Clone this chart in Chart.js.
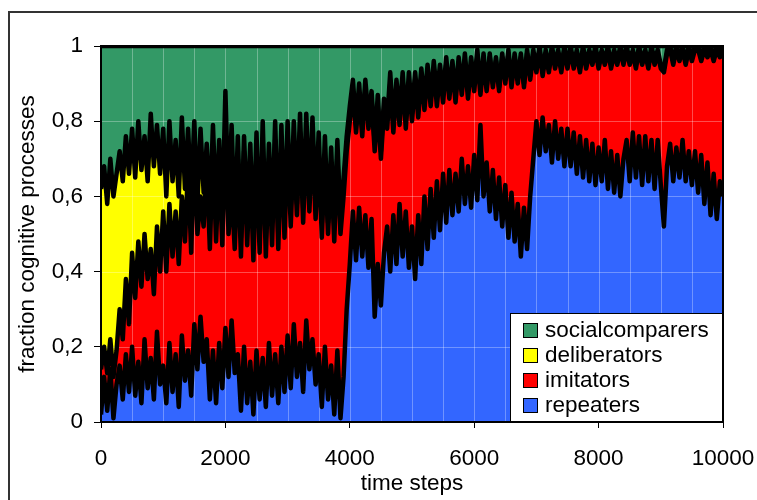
<!DOCTYPE html>
<html>
<head>
<meta charset="utf-8">
<script src="https://cdn.jsdelivr.net/npm/chart.js@4.4.1/dist/chart.umd.min.js"></script>
<style>
  html, body { margin: 0; padding: 0; background: #fff; }
  canvas { display: block; }
</style>
</head>
<body>
<canvas id="chart" width="757" height="500"></canvas>
<script>
// time axis: one sample every 50 steps
const steps = [];
for (let t = 0; t <= 10000; t += 50) steps.push(t);

// fractions (stacked bottom to top)
const repeaters = [
  0.02, 0.12, 0.03, 0.14, 0.01, 0.10, 0.15, 0.06, 0.18, 0.08,
  0.20, 0.07, 0.16, 0.05, 0.22, 0.09, 0.17, 0.06, 0.24, 0.10,
  0.15, 0.05, 0.21, 0.08, 0.18, 0.04, 0.23, 0.11, 0.19, 0.07,
  0.26, 0.14, 0.28, 0.16, 0.22, 0.06, 0.19, 0.05, 0.21, 0.09,
  0.25, 0.12, 0.27, 0.13, 0.18, 0.03, 0.20, 0.05, 0.16, 0.02,
  0.19, 0.06, 0.17, 0.04, 0.21, 0.07, 0.18, 0.05, 0.20, 0.08,
  0.23, 0.09, 0.26, 0.12, 0.21, 0.08, 0.27, 0.14, 0.22, 0.10,
  0.18, 0.04, 0.20, 0.06, 0.15, 0.02, 0.19, 0.01, 0.12, 0.30,
  0.42, 0.56, 0.43, 0.57, 0.44, 0.55, 0.41, 0.54, 0.28, 0.42,
  0.31, 0.45, 0.52, 0.40, 0.55, 0.42, 0.58, 0.44, 0.56, 0.41,
  0.52, 0.38, 0.55, 0.42, 0.60, 0.46, 0.62, 0.49, 0.64, 0.51,
  0.66, 0.53, 0.67, 0.55, 0.66, 0.56, 0.70, 0.58, 0.68, 0.57,
  0.71, 0.59, 0.79, 0.60, 0.69, 0.56, 0.67, 0.54, 0.65, 0.52,
  0.63, 0.49, 0.61, 0.48, 0.58, 0.44, 0.57, 0.46, 0.60, 0.70,
  0.80, 0.71, 0.81, 0.72, 0.79, 0.69, 0.80, 0.70, 0.78, 0.68,
  0.78, 0.68, 0.77, 0.66, 0.76, 0.65, 0.75, 0.64, 0.74, 0.63,
  0.73, 0.64, 0.75, 0.62, 0.72, 0.61, 0.71, 0.60, 0.70, 0.75,
  0.64, 0.77, 0.65, 0.76, 0.63, 0.76, 0.64, 0.75, 0.62, 0.75,
  0.63, 0.52, 0.68, 0.74, 0.64, 0.73, 0.65, 0.75, 0.64, 0.72,
  0.63, 0.72, 0.61, 0.71, 0.58, 0.69, 0.55, 0.66, 0.54, 0.64,
  0.60
];
const imitators = [
  0.12, 0.08, 0.10, 0.08, 0.11, 0.09, 0.15, 0.16, 0.20, 0.18,
  0.25, 0.26, 0.32, 0.31, 0.28, 0.29, 0.29, 0.28, 0.28, 0.30,
  0.41, 0.35, 0.37, 0.36, 0.38, 0.38, 0.37, 0.37, 0.49, 0.38,
  0.48, 0.36, 0.32, 0.36, 0.47, 0.40, 0.54, 0.43, 0.49, 0.38,
  0.53, 0.38, 0.35, 0.33, 0.52, 0.41, 0.52, 0.42, 0.53, 0.41,
  0.53, 0.39, 0.57, 0.40, 0.49, 0.40, 0.57, 0.41, 0.53, 0.41,
  0.53, 0.43, 0.48, 0.43, 0.56, 0.45, 0.48, 0.42, 0.54, 0.44,
  0.54, 0.45, 0.50, 0.44, 0.53, 0.46, 0.52, 0.49, 0.48, 0.42,
  0.38, 0.32, 0.34, 0.30, 0.32, 0.34, 0.37, 0.32, 0.44, 0.42,
  0.39, 0.38, 0.26, 0.50, 0.22, 0.47, 0.21, 0.47, 0.22, 0.49,
  0.28, 0.53, 0.26, 0.50, 0.23, 0.47, 0.22, 0.45, 0.20, 0.42,
  0.19, 0.42, 0.19, 0.39, 0.19, 0.39, 0.17, 0.38, 0.18, 0.38,
  0.17, 0.38, 0.08, 0.36, 0.19, 0.41, 0.22, 0.42, 0.23, 0.45,
  0.27, 0.49, 0.28, 0.49, 0.32, 0.53, 0.32, 0.52, 0.31, 0.28,
  0.13, 0.28, 0.11, 0.26, 0.14, 0.30, 0.14, 0.28, 0.15, 0.31,
  0.16, 0.31, 0.17, 0.32, 0.17, 0.34, 0.19, 0.34, 0.21, 0.36,
  0.21, 0.34, 0.20, 0.37, 0.22, 0.37, 0.24, 0.39, 0.25, 0.24,
  0.31, 0.21, 0.29, 0.23, 0.32, 0.22, 0.30, 0.24, 0.33, 0.23,
  0.31, 0.41, 0.30, 0.25, 0.31, 0.26, 0.31, 0.24, 0.31, 0.27,
  0.33, 0.27, 0.38, 0.25, 0.41, 0.28, 0.44, 0.30, 0.45, 0.33,
  0.39
];
const deliberators = [
  0.48, 0.48, 0.45, 0.48, 0.48, 0.47, 0.42, 0.42, 0.38, 0.40,
  0.33, 0.32, 0.32, 0.31, 0.26, 0.26, 0.36, 0.34, 0.27, 0.26,
  0.22, 0.20, 0.22, 0.20, 0.19, 0.18, 0.21, 0.14, 0.10, 0.15,
  0.06, 0.08, 0.18, 0.09, 0.05, 0.10, 0.06, 0.08, 0.05, 0.07,
  0.10, 0.08, 0.17, 0.06, 0.06, 0.05, 0.04, 0.07, 0.05, 0.06,
  0.05, 0.04, 0.06, 0.05, 0.04, 0.06, 0.05, 0.04, 0.06, 0.04,
  0.04, 0.05, 0.06, 0.03, 0.05, 0.04, 0.07, 0.03, 0.05, 0.04,
  0.05, 0.04, 0.06, 0.03, 0.05, 0.04, 0.04, 0.03, 0.05, 0.04,
  0.04, 0.03, 0.02, 0.03, 0.02, 0.02, 0.03, 0.02, 0.02, 0.03,
  0.02, 0.03, 0.02, 0.03, 0.02, 0.02, 0.03, 0.02, 0.02, 0.03,
  0.02, 0.02, 0.03, 0.02, 0.02, 0.02, 0.02, 0.02, 0.03, 0.02,
  0.02, 0.02, 0.02, 0.02, 0.02, 0.02, 0.02, 0.02, 0.02, 0.02,
  0.02, 0.02, 0.02, 0.02, 0.01, 0.01, 0.01, 0.01, 0.01, 0.01,
  0.01, 0.01, 0.01, 0.01, 0.01, 0.01, 0.01, 0.01, 0.01, 0.01,
  0.01, 0.01, 0.01, 0.01, 0.01, 0.01, 0.01, 0.01, 0.01, 0.01,
  0.01, 0.01, 0.01, 0.01, 0.01, 0.01, 0.01, 0.01, 0.01, 0.01,
  0.01, 0.01, 0.01, 0.01, 0.01, 0.01, 0.01, 0.01, 0.01, 0.01,
  0.01, 0.01, 0.01, 0.01, 0.01, 0.01, 0.01, 0.01, 0.01, 0.01,
  0.01, 0.01, 0.01, 0.01, 0.01, 0.01, 0.01, 0.01, 0.01, 0.01,
  0.01, 0.01, 0.01, 0.01, 0.01, 0.01, 0.01, 0.01, 0.01, 0.01,
  0.01
];
const socialcomparers = [
  0.38, 0.32, 0.42, 0.30, 0.40, 0.34, 0.28, 0.36, 0.24, 0.34,
  0.22, 0.35, 0.20, 0.33, 0.24, 0.36, 0.18, 0.32, 0.21, 0.34,
  0.22, 0.40, 0.20, 0.36, 0.25, 0.40, 0.19, 0.38, 0.22, 0.40,
  0.20, 0.42, 0.22, 0.39, 0.26, 0.44, 0.21, 0.44, 0.25, 0.46,
  0.12, 0.42, 0.21, 0.48, 0.24, 0.51, 0.24, 0.46, 0.26, 0.51,
  0.23, 0.51, 0.20, 0.51, 0.26, 0.47, 0.20, 0.50, 0.21, 0.47,
  0.20, 0.43, 0.20, 0.42, 0.18, 0.43, 0.18, 0.41, 0.19, 0.42,
  0.23, 0.47, 0.24, 0.47, 0.27, 0.48, 0.25, 0.47, 0.35, 0.24,
  0.16, 0.09, 0.21, 0.10, 0.22, 0.09, 0.19, 0.12, 0.26, 0.13,
  0.28, 0.14, 0.20, 0.07, 0.21, 0.09, 0.18, 0.07, 0.20, 0.07,
  0.18, 0.07, 0.16, 0.06, 0.15, 0.05, 0.14, 0.04, 0.13, 0.05,
  0.13, 0.03, 0.12, 0.04, 0.13, 0.03, 0.11, 0.02, 0.12, 0.03,
  0.10, 0.01, 0.11, 0.02, 0.11, 0.02, 0.10, 0.03, 0.11, 0.02,
  0.09, 0.01, 0.10, 0.02, 0.09, 0.02, 0.10, 0.01, 0.08, 0.01,
  0.06, 0.00, 0.07, 0.01, 0.06, 0.00, 0.05, 0.01, 0.06, 0.00,
  0.05, 0.00, 0.05, 0.01, 0.06, 0.00, 0.05, 0.01, 0.04, 0.00,
  0.05, 0.01, 0.04, 0.00, 0.05, 0.01, 0.04, 0.00, 0.04, 0.00,
  0.04, 0.01, 0.05, 0.00, 0.04, 0.01, 0.05, 0.00, 0.04, 0.01,
  0.05, 0.06, 0.01, 0.00, 0.04, 0.00, 0.03, 0.00, 0.04, 0.00,
  0.03, 0.00, 0.00, 0.03, 0.00, 0.02, 0.00, 0.03, 0.00, 0.02,
  0.00
];

const seriesNames = ['repeaters', 'imitators', 'deliberators', 'socialcomparers'];
const seriesData = [repeaters, imitators, deliberators, socialcomparers];
const seriesColors = ['#3366FF', '#FF0000', '#FFFF00', '#339966'];
const xTicks = [0, 2000, 4000, 6000, 8000, 10000];
const yTicks = [0, 0.2, 0.4, 0.6, 0.8, 1];

const FONT = "'Liberation Sans', Arial, sans-serif";
const FS = 22.5;

// faint light lines over the filled areas, like the original export
const faintGrid = {
    id: 'faintGrid',
    beforeDatasetsDraw(chart) {
        const { ctx, chartArea: a, scales } = chart;
        ctx.save();
        ctx.strokeStyle = 'rgba(255,255,255,0.3)';
        ctx.lineWidth = 1;
        ctx.beginPath();
        for (let t = 500; t < 10000; t += 500) {
            const x = Math.round(scales.x.getPixelForValue(t)) + 0.5;
            ctx.moveTo(x, a.top);
            ctx.lineTo(x, a.bottom);
        }
        for (const v of [0.2, 0.4, 0.6, 0.8]) {
            const y = Math.round(scales.y.getPixelForValue(v)) + 0.5;
            ctx.moveTo(a.left, y);
            ctx.lineTo(a.right, y);
        }
        ctx.stroke();
        ctx.restore();
    }
};

// frame, plot border, axis titles and the boxed legend
const decorations = {
    id: 'decorations',
    afterDraw(chart) {
        const { ctx, chartArea: a } = chart;
        ctx.save();

        // legend box (bottom-right of plot)
        const lx = 510, ly = 313, lw = a.right - 510, lh = a.bottom - 313;
        ctx.fillStyle = '#fff';
        ctx.fillRect(lx, ly, lw, lh);
        ctx.strokeStyle = '#000';
        ctx.lineWidth = 1;
        ctx.strokeRect(lx + 0.5, ly + 0.5, lw, lh);
        ctx.font = FS + 'px ' + FONT;
        ctx.textAlign = 'left';
        ctx.textBaseline = 'middle';
        [3, 2, 1, 0].forEach((k, r) => {
            const cy = 330 + r * 25;
            ctx.fillStyle = seriesColors[k];
            ctx.fillRect(523, cy - 7, 14, 14);
            ctx.strokeStyle = '#000';
            ctx.strokeRect(523.5, cy - 6.5, 14, 14);
            ctx.fillStyle = '#000';
            ctx.fillText(seriesNames[k], 545, cy + 1);
        });

        // plot border
        ctx.strokeStyle = '#000';
        ctx.lineWidth = 2;
        ctx.strokeRect(a.left, a.top, a.right - a.left, a.bottom - a.top);

        // outer chart frame
        ctx.strokeStyle = '#333';
        ctx.lineWidth = 2;
        ctx.strokeRect(9, 12, 800, 600);

        // axis titles
        ctx.fillStyle = '#000';
        ctx.textAlign = 'center';
        ctx.textBaseline = 'alphabetic';
        ctx.fillText('time steps', (a.left + a.right) / 2, 490);
        ctx.translate(34, (a.top + a.bottom) / 2);
        ctx.rotate(-Math.PI / 2);
        ctx.fillText('fraction cognitive processes', 0, 0);
        ctx.restore();
    }
};

new Chart(document.getElementById('chart'), {
    type: 'line',
    data: {
        labels: steps,
        datasets: seriesData.map((data, k) => ({
            label: seriesNames[k],
            data: data,
            backgroundColor: seriesColors[k],
            borderColor: '#000',
            borderWidth: 4.5,
            borderJoinStyle: 'round',
            pointRadius: 0,
            tension: 0,
            fill: k === 0 ? 'origin' : '-1'
        }))
    },
    options: {
        responsive: false,
        animation: false,
        events: [],
        layout: { padding: { left: 0, right: 34, top: 46, bottom: 0 } },
        plugins: {
            legend: { display: false },
            tooltip: { enabled: false },
            filler: { drawTime: 'beforeDatasetsDraw' }
        },
        scales: {
            x: {
                type: 'linear',
                min: 0,
                max: 10000,
                afterBuildTicks: s => { s.ticks = xTicks.map(v => ({ value: v })); },
                afterFit: s => { s.height = 78; s.paddingLeft = 0; s.paddingRight = 0; },
                border: { display: false },
                grid: { drawOnChartArea: false, tickLength: 6, color: '#000', lineWidth: 1 },
                ticks: {
                    color: '#000',
                    font: { family: FONT, size: FS },
                    padding: 17,
                    maxRotation: 0,
                    autoSkip: false,
                    callback: v => String(v)
                }
            },
            y: {
                stacked: true,
                min: 0,
                max: 1,
                afterBuildTicks: s => { s.ticks = yTicks.map(v => ({ value: v })); },
                afterFit: s => { s.width = 101; },
                border: { display: false },
                grid: { drawOnChartArea: false, tickLength: 7, color: '#000', lineWidth: 1 },
                ticks: {
                    color: '#000',
                    font: { family: FONT, size: FS },
                    padding: 11,
                    callback: v => (v === 0 || v === 1) ? String(v) : v.toFixed(1).replace('.', ',')
                }
            }
        }
    },
    plugins: [faintGrid, decorations]
});
</script>
</body>
</html>
